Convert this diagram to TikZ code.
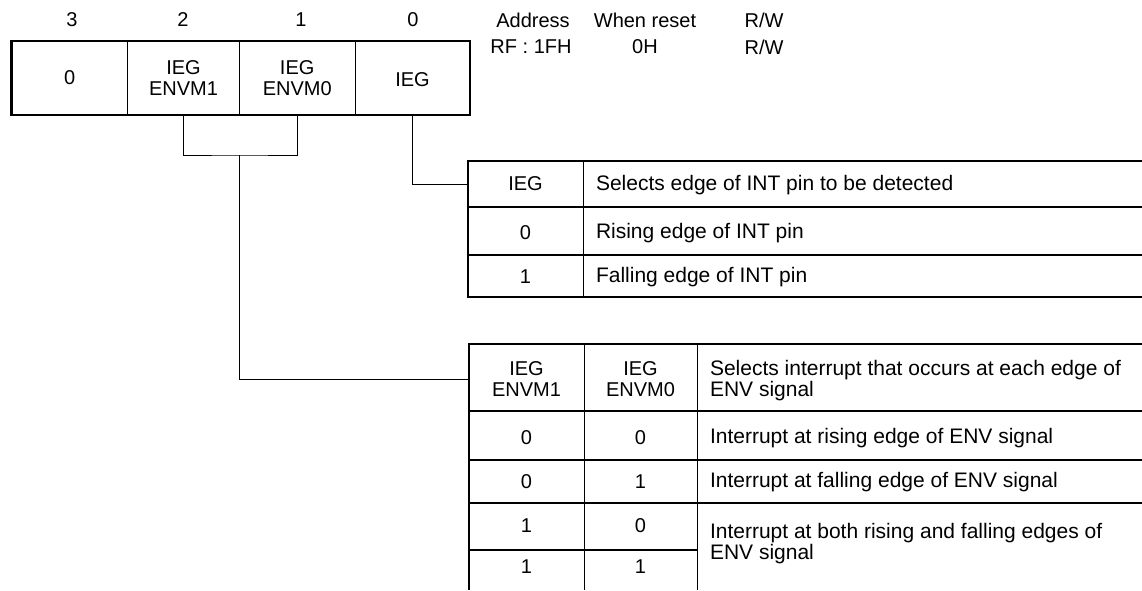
\documentclass[tikz,border=0pt]{standalone}
\usepackage{fontspec}
\setmainfont{Liberation Sans}
\begin{document}
\begin{tikzpicture}[x=1pt,y=-1pt,
  every node/.style={inner sep=0pt,outer sep=0pt,font=\fontsize{20}{20.5}\selectfont},
  txt/.style={anchor=center,align=center},
  ltxt/.style={anchor=west,align=left,font=\fontsize{21}{21}\selectfont},
  thickline/.style={line width=2.6pt},
  medline/.style={line width=1.6pt},
  thinline/.style={line width=0.9pt},
  conn/.style={line width=1pt}]
\fill[white] (0,0) rectangle (1142,590);
\useasboundingbox (0,0) rectangle (1142,590);

% bit numbers
\node[txt] (b3) at (72,20) {3};
\node[txt] (b2) at (183,20) {2};
\node[txt] (b1) at (301,20) {1};
\node[txt] (b0) at (413,20) {0};

% register cells
\node[minimum width=116pt,minimum height=74pt] (c3) at (69.7,78) {};
\node[minimum width=111.6pt,minimum height=74pt] (c2) at (183.5,78) {};
\node[minimum width=115.7pt,minimum height=74pt] (c1) at (297.2,78) {};
\node[minimum width=115pt,minimum height=74pt] (c0) at (412.5,78) {};
\draw[thinline] (c2.north west) -- (c2.south west);
\draw[thinline] (c1.north west) -- (c1.south west);
\draw[thinline] (c0.north west) -- (c0.south west);
\draw[thickline] (c3.north west) rectangle (c0.south east);
\node[txt] (t3) at (c3) {0};
\node[txt] (t2) at (c2) {IEG\\ENVM1};
\node[txt] (t1) at (c1) {IEG\\ENVM0};
\node[txt] (t0) at (412.5,80) {IEG};

% address header
\node[txt] (ha) at (533,20) {Address};
\node[txt] (hw) at (645,20) {When reset};
\node[txt] (hr) at (764,20) {R/W};
\node[txt] (va) at (531,47) {RF : 1FH};
\node[txt] (vw) at (645,47) {0H};
\node[txt] (vr) at (764,47) {R/W};

% table 1 grid
\draw[thickline] (1142,161) -- (468,161) -- (468,297) -- (1142,297);
\draw[thickline] (468,207) -- (1142,207);
\draw[medline] (468,255) -- (1142,255);
\draw[thinline] (583,161) -- (583,297);
\node[minimum width=115pt,minimum height=46pt] (a0) at (525.5,184) {IEG};
\node[ltxt] (a1) at (596,185) {Selects edge of INT pin to be detected};
\node[txt] (a2) at (525.5,233) {0};
\node[ltxt] (a3) at (596,233) {Rising edge of INT pin};
\node[txt] (a4) at (525.5,277) {1};
\node[ltxt] (a5) at (596,277) {Falling edge of INT pin};

% table 2 grid
\draw[thickline] (1142,344) -- (469,344) -- (469,590);
\draw[thickline] (469,411) -- (1142,411);
\draw[medline] (469,460) -- (1142,460);
\draw[medline] (469,503) -- (1142,503);
\draw[medline] (469,550) -- (697,550);
\draw[thinline] (584,344) -- (584,590);
\draw[thinline] (697,344) -- (697,590);
\node[minimum width=115pt,minimum height=67pt,align=center] (h1) at (526.5,379) {IEG\\ENVM1};
\node[txt] (h2) at (640.5,379) {IEG\\ENVM0};
\node[ltxt] (h3) at (710,381) {Selects interrupt that occurs at each edge of\\ENV signal};
\node[txt] (r1a) at (526.5,438) {0};
\node[txt] (r1b) at (640.5,438) {0};
\node[ltxt] (r1c) at (710,438) {Interrupt at rising edge of ENV signal};
\node[txt] (r2a) at (526.5,482) {0};
\node[txt] (r2b) at (640.5,482) {1};
\node[ltxt] (r2c) at (710,482) {Interrupt at falling edge of ENV signal};
\node[txt] (r3a) at (526.5,526) {1};
\node[txt] (r3b) at (640.5,526) {0};
\node[txt] (r4a) at (526.5,567) {1};
\node[txt] (r4b) at (640.5,567) {1};
\node[ltxt] (r3c) at (710,544) {Interrupt at both rising and falling edges of\\ENV signal};

% connectors
\coordinate (bm) at (c2.south east |- 0,155);
\draw[conn] (c2.south) |- (bm) -| (c1.south);
\draw[conn] (bm) |- (h1.west);
\draw[conn] (c0.south) |- (a0.west);
\end{tikzpicture}
\end{document}
